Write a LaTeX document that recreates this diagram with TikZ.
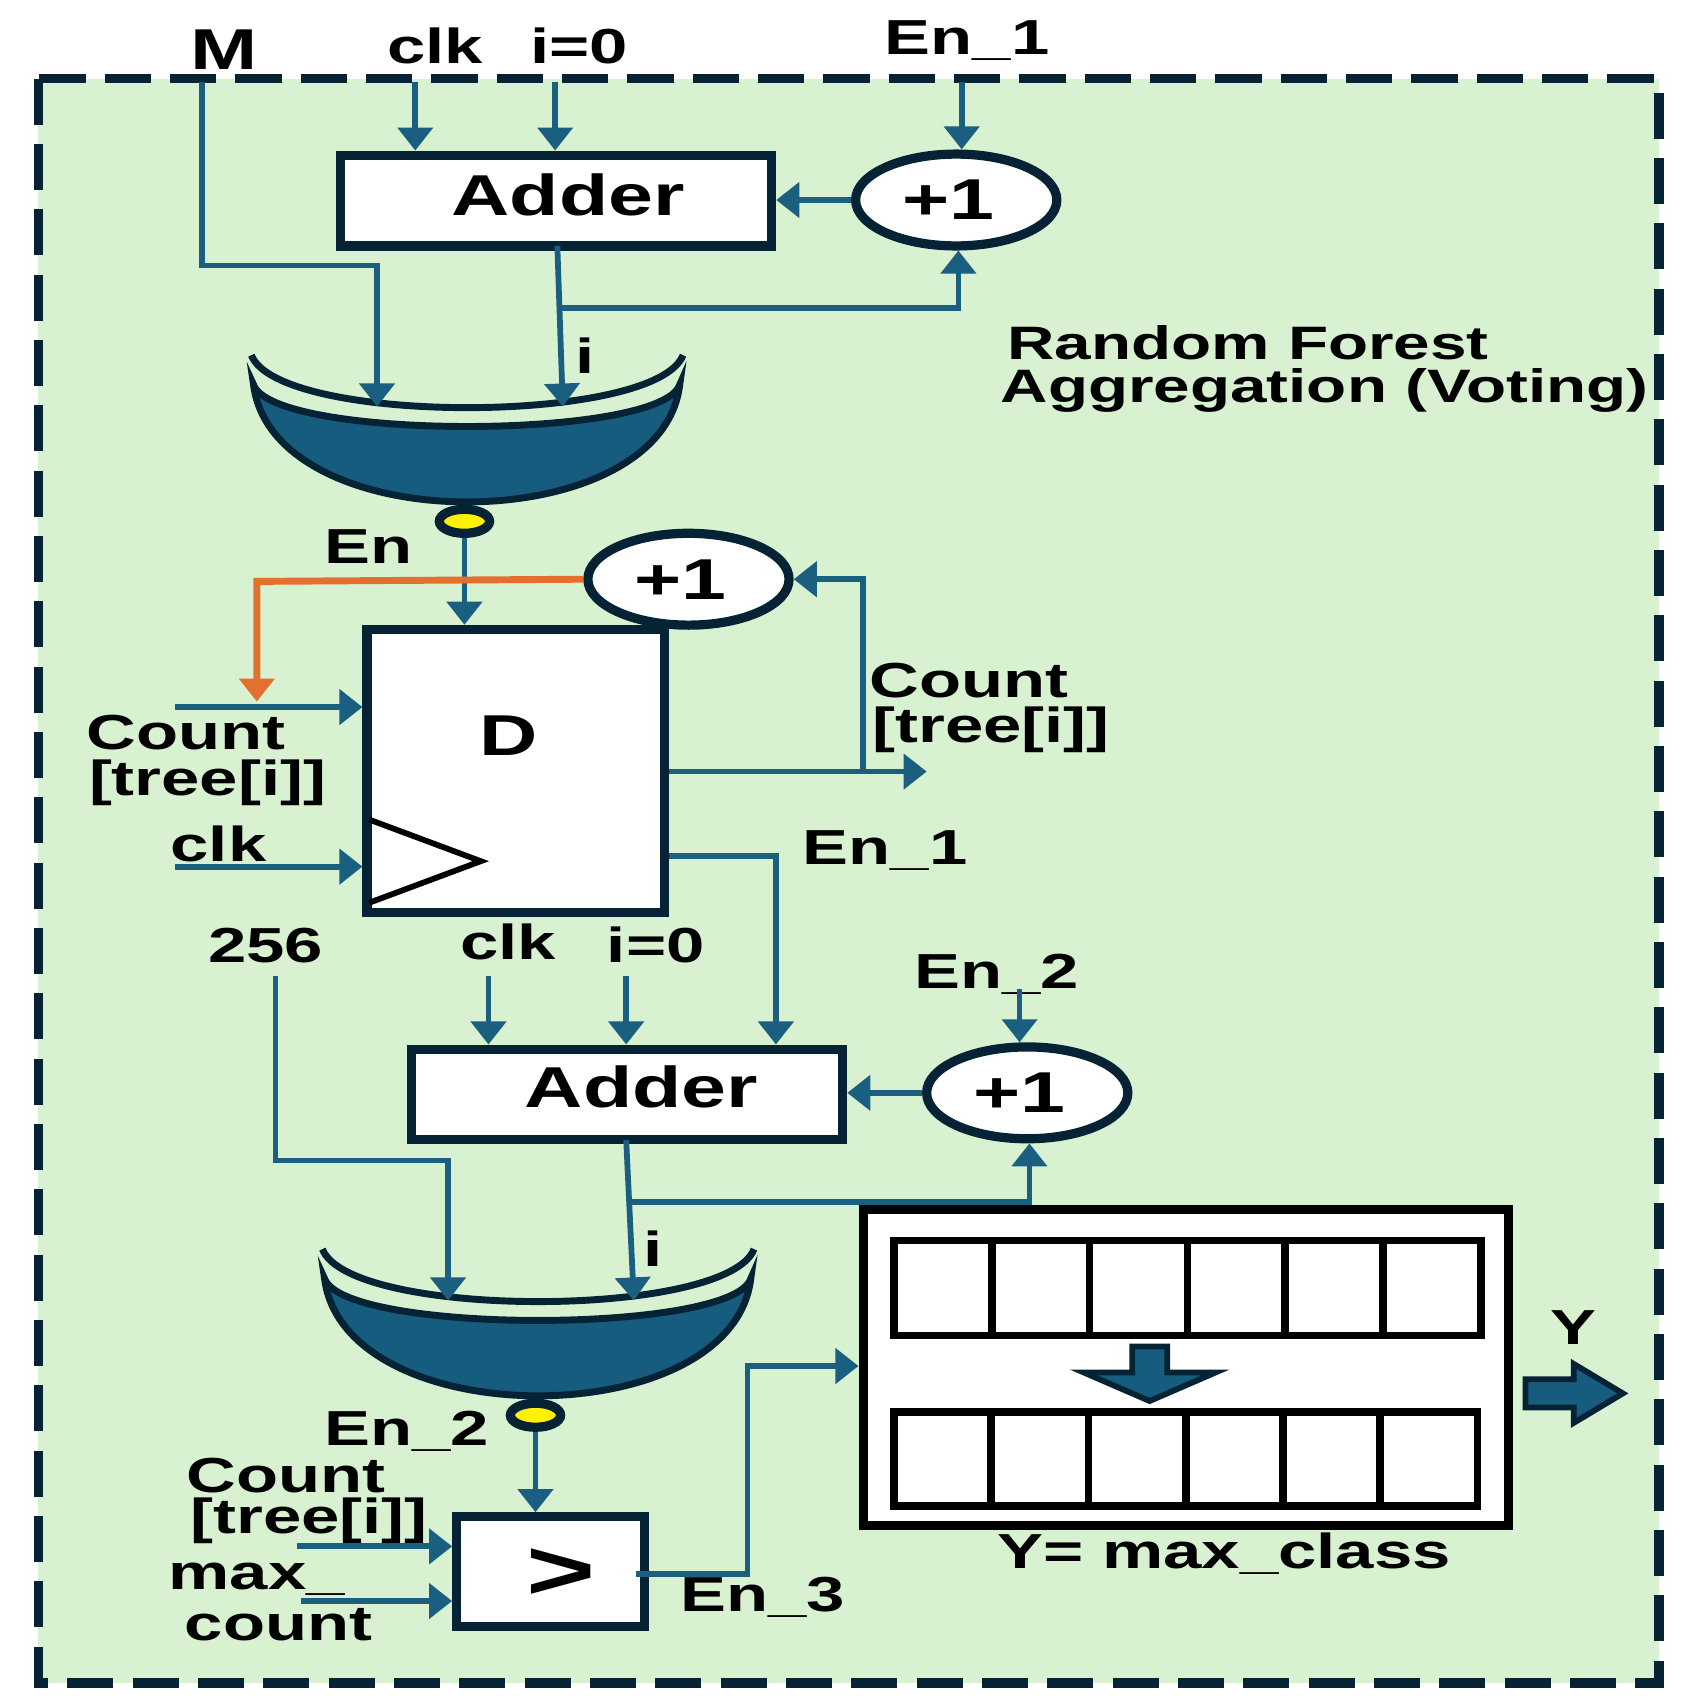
\documentclass[tikz,border=0pt]{standalone}
\usepackage{fontspec}
\setmainfont{Liberation Sans}[FakeStretch=1.4]
\usetikzlibrary{arrows.meta,shapes.geometric}
\definecolor{ln}{HTML}{1B5F80}
\definecolor{bg}{HTML}{D8F1D0}
\definecolor{dk}{HTML}{062335}
\definecolor{mx}{HTML}{165C7E}
\definecolor{org}{HTML}{E3702F}
\begin{document}
\begin{tikzpicture}[x=0.01cm,y=-0.01cm,
  wire/.style={draw=ln,line width=1.5pt},
  arr/.style={wire,-{Triangle[width=9pt,length=6pt]}},
  box/.style={draw=dk,line width=2.4pt,fill=white,inner sep=0pt},
  inc/.style={draw=dk,line width=2.4pt,fill=white,ellipse,minimum width=1.84cm,minimum height=0.84cm,inner sep=0pt},
  lbl/.style={font=\bfseries\fontsize{12.8}{15}\selectfont,inner sep=0pt,align=left},
  big/.style={font=\bfseries\fontsize{15}{18}\selectfont,inner sep=0pt},
  cell/.style={draw=black,line width=2pt,fill=white}]
\useasboundingbox (0,0) rectangle (1550,1562);
\draw[fill=bg,draw=dk,line width=2.4pt,dash pattern=on 12pt off 5pt] (35,72) rectangle (1518,1540);
% mux shape
\newcommand{\muxat}[3]{%
 \begin{scope}[shift={(#1,#2)}]
 \draw[dk,line width=1.8pt,fill=mx] (232,352) .. controls (250,403) and (605,403) .. (622,352) .. controls (605,495) and (250,495) .. (232,352) -- cycle;
 \draw[dk,line width=1.8pt] (230,325) .. controls (255,389) and (600,389) .. (625,325);
 \node[ellipse,draw=dk,line width=2.4pt,fill=yellow,minimum width=0.46cm,minimum height=0.22cm,inner sep=0pt] (#3) at (425,477) {};
 \end{scope}}
% top section
\node[big] (tM) at (205,45) {M};
\node[lbl] (tclk) at (398,42) {clk};
\node[lbl] (ti0) at (530,42) {i=0};
\node[lbl] (tEn1) at (885,37) {En\_1};
\node[box,minimum width=3.94cm,minimum height=0.83cm] (add1) at (509,183.5) {};
\node[big] at (520,178) {Adder};
\node[inc] (p1) at (875,183) {};
\node[big] at (868,183) {+1};
\coordinate (c1) at (380,75); \coordinate (c2) at (508,75); \coordinate (c3) at (880,75);
\draw[arr] (c1) -- (c1 |- add1.north);
\draw[arr] (c2) -- (c2 |- add1.north);
\draw[arr] (c3) -- (p1.north -| c3);
\draw[arr] (p1.west) -- (add1.east |- p1.west);
\muxat{0}{0}{sel1}
\draw[arr] (510,225) -- (515,372);
\draw[arr] (514,282) -- (877,282) -- (p1.south -| 877,0);
\draw[arr] (185,75) -- (185,243) -- (345,243) -- (345,372);
\node[lbl] at (535,325) {i};
\node[lbl,font=\bfseries\fontsize{12.2}{15}\selectfont] at (1142,314) {Random Forest};
\node[lbl,font=\bfseries\fontsize{12.2}{15}\selectfont] at (1212,357) {Aggregation (Voting)};
% D flip flop
\node[lbl] at (337,500) {En};
\node[box,minimum width=2.72cm,minimum height=2.59cm] (dff) at (472,705.5) {};
\node[big] at (465,673) {D};
\draw[black,line width=1.5pt] (338,750) -- (440,788) -- (338,826);
\node[inc] (p2) at (630,530) {};
\node[big] at (623,530) {+1};
\draw[arr] (sel1.south) -- (sel1.south |- dff.north);
\draw[draw=org,line width=1.8pt,-{Triangle[width=9pt,length=6pt]}] (p2.west) -- (235,532) -- (235,642);
\draw[arr] (160,647) -- (dff.west |- 0,647);
\draw[arr] (160,793) -- (dff.west |- 0,793);
\node[lbl] at (170,670) {Count};
\node[lbl] at (190,716) {[tree[i]]};
\node[lbl] at (200,772) {clk};
\draw[arr] (dff.east |- 0,706) -- (848,706);
\draw[arr] (790,706) -- (790,530) -- (p2.east);
\node[lbl] at (887,623) {Count};
\node[lbl] at (907,668) {[tree[i]]};
\node[lbl] at (810,778) {En\_1};
% second adder
\node[lbl] at (243,865) {256};
\node[lbl] at (465,862) {clk};
\node[lbl] at (600,865) {i=0};
\node[lbl] at (912,892) {En\_2};
\node[box,minimum width=3.94cm,minimum height=0.83cm] (add2) at (574,1001.5) {};
\node[big] at (587,995) {Adder};
\node[inc] (p3) at (940,1000) {};
\node[big] at (933,1000) {+1};
\draw[arr] (dff.east |- 0,783) -- (710,783) -- (add2.north -| 710,0);
\draw[arr] (447,893) -- (add2.north -| 447,0);
\draw[arr] (573,893) -- (add2.north -| 573,0);
\draw[arr] (933,905) -- (p3.north -| 933,0);
\draw[arr] (p3.west) -- (add2.east |- p3.west);
\muxat{65}{818}{sel2}
\draw[arr] (573,1043) -- (580,1190);
\draw[arr] (577,1100) -- (942,1100) -- (p3.south -| 942,0);
\draw[arr] (252,893) -- (252,1062) -- (410,1062) -- (410,1190);
\node[lbl] at (598,1143) {i};
% comparator
\node[lbl] at (372,1310) {En\_2};
\node[box,minimum width=1.72cm,minimum height=1.0cm] (cmp) at (504,1438) {};
\node[font=\bfseries\fontsize{22}{24}\selectfont,inner sep=0pt] at (513,1440) {>};
\draw[arr] (sel2.south) -- (sel2.south |- cmp.north);
\node[lbl] at (262,1350) {Count};
\node[lbl] at (283,1392) {[tree[i]]};
\node[lbl] at (235,1445) {max\_};
\node[lbl] at (255,1487) {count};
\draw[arr] (272,1415) -- (cmp.west |- 0,1415);
\draw[arr] (275,1465) -- (cmp.west |- 0,1465);
\node[lbl] at (698,1462) {En\_3};
% output register
\node[box,draw=black,minimum width=5.9cm,minimum height=2.89cm] (reg) at (1085,1251.5) {};
\draw[arr] (582,1440) -- (684,1440) -- (684,1250) -- (reg.west |- 0,1250);
\foreach \i in {0,...,5}{
  \draw[cell] (818+\i*89.5,1135) rectangle ++(89.5,87);
  \draw[cell] (818+\i*89,1292) rectangle ++(89,86);}
\draw[dk,line width=1.5pt,fill=mx] (1036,1232) -- (1068,1232) -- (1068,1256) -- (1112,1256) -- (1052,1282) -- (992,1256) -- (1036,1256) -- cycle;
\draw[dk,line width=1.5pt,fill=mx] (1396,1262) -- (1440,1262) -- (1440,1248) -- (1485,1275) -- (1440,1302) -- (1440,1288) -- (1396,1288) -- cycle;
\node[lbl] at (1440,1215) {Y};
\node[lbl] at (1120,1422) {Y= max\_class};
\end{tikzpicture}
\end{document}
